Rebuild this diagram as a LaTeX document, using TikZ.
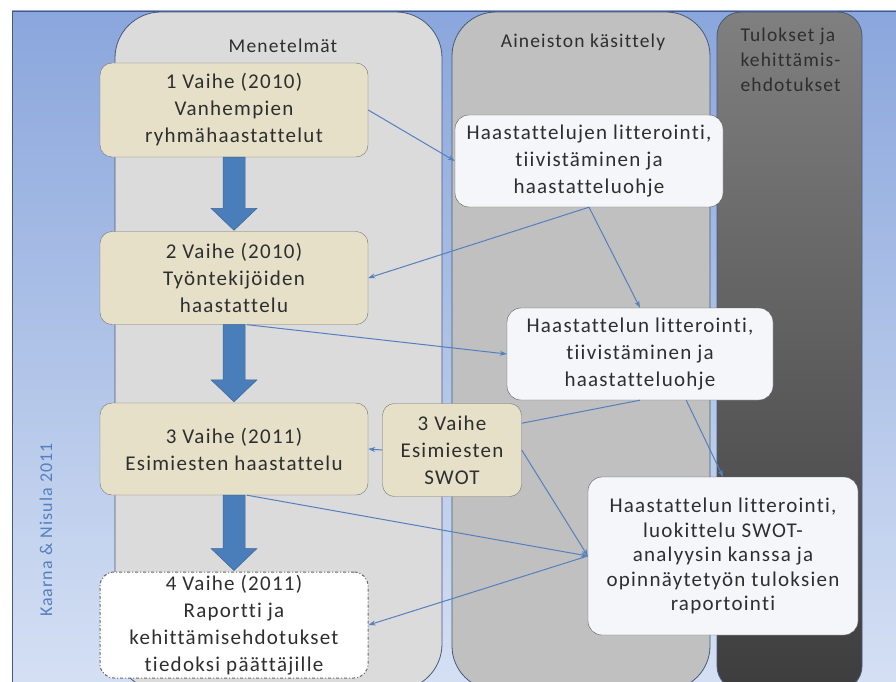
\documentclass[tikz,border=0pt]{standalone}
\usepackage{fontspec}
\setmainfont{Carlito}[LetterSpace=6,Ligatures=NoCommon]
\usetikzlibrary{arrows.meta,calc}

\definecolor{bgtop}{RGB}{138,166,220}
\definecolor{bgbottom}{RGB}{214,225,244}
\definecolor{frameline}{RGB}{70,90,120}
\definecolor{colone}{RGB}{219,219,219}
\definecolor{coltwo}{RGB}{192,192,192}
\definecolor{phasefill}{RGB}{230,224,201}
\definecolor{workfill}{RGB}{244,246,249}
\definecolor{linkblue}{RGB}{84,128,190}
\definecolor{arrowblue}{RGB}{74,126,187}

\begin{document}
\begin{tikzpicture}[x=1pt,y=-1pt,
  every node/.style={text=black!82,font=\fontsize{21}{27}\selectfont},
  head/.style={font=\fontsize{19.5}{25}\selectfont},
  phase/.style={draw=black!55,fill=phasefill,rounded corners=12pt,align=center,minimum width=268pt,inner sep=2pt},
  work/.style={draw=black!65,fill=workfill,rounded corners=14pt,align=center,inner sep=2pt},
  report/.style={draw=black!60,line width=1pt,fill=white,dash dot,rounded corners=14pt,align=center,minimum width=268pt,inner sep=2pt},
  link/.style={draw=linkblue,line width=1pt,-{Stealth[length=7pt,width=5pt]}},
  colline/.style={draw=frameline,line width=0.8pt}]
\useasboundingbox (0,0) rectangle (896,682);
\fill[white] (0,0) rectangle (896,682);
% frame and columns
\begin{scope}
\clip (0,0) rectangle (896,682);
\draw[draw=frameline,line width=0.8pt,top color=bgtop,bottom color=bgbottom] (12,11) rectangle (900,700);
\draw[colline,fill=colone,rounded corners=46pt] (115,12) rectangle (442,690);
\draw[colline,fill=coltwo,rounded corners=44pt] (452,12) rectangle (710,690);
\draw[colline,top color=black!50,bottom color=black!76,rounded corners=24pt] (717,12) rectangle (862,690);
\end{scope}

\node[head] (methods) at (283,46) {Menetelmät};
\node[head] (processing) at (583,42) {Aineiston käsittely};
\node[head,align=left,anchor=west] (results) at (737,60) {Tulokset ja\\kehittämis-\\ehdotukset};
\node[text=linkblue,rotate=90,font=\fontsize{18}{22}\selectfont] (credit) at (46,530) {Kaarna \& Nisula 2011};

% phases
\node[phase,minimum height=94pt] (b1) at (234,110) {1 Vaihe (2010)\\Vanhempien\\ryhmähaastattelut};
\node[phase,minimum height=93pt] (b2) at (234,278) {2 Vaihe (2010)\\Työntekijöiden\\haastattelu};
\node[phase,minimum height=92pt] (b3) at (234,449) {3 Vaihe (2011)\\Esimiesten haastattelu};
\node[report,minimum height=106pt] (b4) at (234,625) {4 Vaihe (2011)\\Raportti ja\\kehittämisehdotukset\\tiedoksi päättäjille};
\node[phase,minimum width=139pt,minimum height=93pt] (swot) at (452,450) {3 Vaihe\\Esimiesten\\SWOT};

% processing
\node[work,minimum width=268pt,minimum height=92pt] (a1) at (589,161) {Haastattelujen litterointi,\\tiivistäminen ja\\haastatteluohje};
\node[work,minimum width=266pt,minimum height=92pt] (a2) at (640,354) {Haastattelun litterointi,\\tiivistäminen ja\\haastatteluohje};
\node[work,minimum width=270pt,minimum height=158pt,font=\fontsize{21}{24.5}\selectfont] (a3) at (723,556) {Haastattelun litterointi,\\luokittelu SWOT-\\analyysin kanssa ja\\opinnäytetyön tuloksien\\raportointi};

% block arrows
\foreach \a/\b in {b1/b2,b2/b3,b3/b4}
  \fill[arrowblue,draw=arrowblue!80!black,line width=0.5pt]
    ($(\a.south)+(-11,0)$) -- ($(\b.north)+(-11,-23)$) -- ($(\b.north)+(-23,-23)$)
    -- ($(\b.north)+(0,-1)$) -- ($(\b.north)+(23,-23)$) -- ($(\b.north)+(11,-23)$)
    -- ($(\a.south)+(11,0)$) -- cycle;

% connectors
\draw[link] (b1.east) -- (a1.west);
\draw[link] (a1.south) -- (b2.east);
\draw[link] (a1.south) -- (a2.north);
\draw[link] ($(b2.south)+(13,0)$) -- (a2.west);
\draw[draw=linkblue,line width=1pt] (a2.south) -- (swot.21);
\draw[link] (swot.west) -- (b3.east);
\draw[link] (a2.-45) -- (a3.north);
\draw[link] (swot.east) -- (a3.west);
\draw[link] ($(b3.south)+(13,0)$) -- (a3.west);
\draw[link] (a3.west) -- (b4.east);
\end{tikzpicture}
\end{document}
